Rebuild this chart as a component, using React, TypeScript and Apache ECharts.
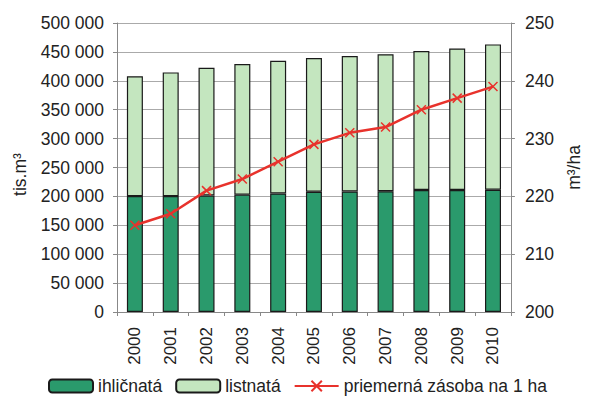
import React, { useEffect, useRef } from "react";
import * as echarts from "echarts";

const years = ["2000", "2001", "2002", "2003", "2004", "2005", "2006", "2007", "2008", "2009", "2010"];
const ihlicnata = [200500, 200500, 201500, 203000, 205000, 208000, 208500, 209000, 211000, 211000, 211500];
const totals = [408000, 414500, 422500, 429000, 434500, 439500, 443000, 446000, 451500, 456000, 463000];
const listnata = totals.map((t, i) => t - ihlicnata[i]);
const zasoba = [215, 217, 221, 223, 226, 229, 231, 232, 235, 237, 239];

const FONT = "'Liberation Sans', Arial, sans-serif";
const TXT = "#222";

export default function App() {
  const ref = useRef<HTMLDivElement>(null);
  useEffect(() => {
    if (!ref.current) return;
    const chart = echarts.init(ref.current, null, { renderer: "svg" });
    const fmt = (v: number) => (v >= 1000 ? `${Math.floor(v / 1000)} ${String(v % 1000).padStart(3, "0")}` : String(v));
    chart.setOption({
      animation: false,
      textStyle: { fontFamily: FONT, color: TXT },
      grid: { left: 117, right: 69, top: 23, bottom: 86 },
      legend: {
        top: 376,
        left: 48,
        padding: 0,
        itemWidth: 44,
        itemHeight: 13,
        itemGap: 13,
        textStyle: { fontSize: 17.5, color: TXT, fontFamily: FONT, lineHeight: 20 },
        data: ["ihličnatá", "listnatá", "priemerná zásoba na 1 ha"],
      },
      xAxis: {
        type: "category",
        data: years,
        axisLine: { lineStyle: { color: "#888" } },
        axisTick: { show: true, alignWithLabel: false, lineStyle: { color: "#888" }, length: 4 },
        axisLabel: { rotate: 90, fontSize: 17, color: TXT, margin: 15, fontFamily: FONT },
      },
      yAxis: [
        {
          type: "value",
          min: 0,
          max: 500000,
          interval: 50000,
          name: "tis.m³",
          nameLocation: "middle",
          nameRotate: 90,
          nameGap: 88,
          nameTextStyle: { fontSize: 17.5, color: TXT, fontFamily: FONT, padding: [0, 0, 0, -14] },
          axisLine: { show: true, lineStyle: { color: "#888" } },
          axisTick: { show: true, length: 4, lineStyle: { color: "#888" } },
          axisLabel: { fontSize: 17.5, color: TXT, formatter: fmt, margin: 13, fontFamily: FONT },
          splitLine: { lineStyle: { color: "#aaa" } },
        },
        {
          type: "value",
          min: 200,
          max: 250,
          interval: 10,
          name: "m³/ha",
          nameLocation: "middle",
          nameRotate: 90,
          nameGap: 52,
          nameTextStyle: { fontSize: 17.5, color: TXT, fontFamily: FONT },
          axisLine: { show: true, lineStyle: { color: "#888" } },
          axisTick: { show: true, length: 4, lineStyle: { color: "#888" } },
          axisLabel: { fontSize: 17.5, color: TXT, margin: 14, fontFamily: FONT },
          splitLine: { show: false },
        },
      ],
      series: [
        {
          name: "ihličnatá",
          type: "bar",
          stack: "s",
          barWidth: 16,
          data: ihlicnata,
          itemStyle: { color: "#2a9a6c", borderColor: "#1a1a1a", borderWidth: 1.2 },
        },
        {
          name: "listnatá",
          type: "bar",
          stack: "s",
          barWidth: 16,
          data: listnata,
          itemStyle: { color: "#c4e6bf", borderColor: "#1a1a1a", borderWidth: 1.2 },
        },
        {
          name: "priemerná zásoba na 1 ha",
          type: "line",
          yAxisIndex: 1,
          data: zasoba,
          symbol: "path://M0,0L10,10M10,0L0,10",
          symbolSize: 9,
          lineStyle: { color: "#e8322c", width: 2.5 },
          itemStyle: { color: "#e8322c", borderColor: "#e8322c", borderWidth: 1.5 },
        },
      ],
    });
    return () => chart.dispose();
  }, []);
  return <div ref={ref} style={{ width: 591, height: 398, position: "absolute", left: 0, top: 0, background: "#fff" }} />;
}
